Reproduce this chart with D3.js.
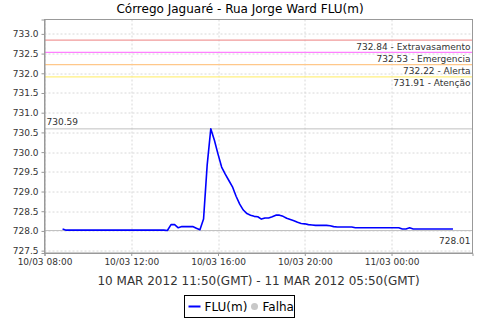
<!DOCTYPE html>
<html>
<head>
<meta charset="utf-8">
<script src="https://cdn.jsdelivr.net/npm/d3@7"></script>
<style>
  body { margin: 0; background: #fff; }
  svg text { font-family: "DejaVu Sans", sans-serif; }
</style>
</head>
<body>
<div id="chart"></div>
<script>
// Chart data
const chartTitle = "Córrego Jaguaré - Rua Jorge Ward FLU(m)";
const subTitle = "10 MAR 2012 11:50(GMT) - 11 MAR 2012 05:50(GMT)";
const seriesStart = "2012-03-10 08:50";
const stepMinutes = 10;
const fluValues = [
  728.05, 728.02, 728.02, 728.02, 728.02, 728.02, 728.02, 728.02, 728.02, 728.02,
  728.02, 728.02, 728.02, 728.02, 728.02, 728.02, 728.02, 728.02, 728.02, 728.02,
  728.02, 728.02, 728.02, 728.02, 728.02, 728.02, 728.02, 728.02, 728.02, 728.01,
  728.16, 728.16, 728.08, 728.11, 728.11, 728.11, 728.11, 728.07, 728.03, 728.30,
  729.67, 730.59, 730.30, 729.95, 729.62, 729.44, 729.28, 729.12, 728.88, 728.68,
  728.53, 728.44, 728.40, 728.37, 728.36, 728.30, 728.33, 728.33, 728.36, 728.40,
  728.40, 728.37, 728.32, 728.29, 728.26, 728.22, 728.19, 728.18, 728.16, 728.15,
  728.14, 728.14, 728.14, 728.14, 728.13, 728.11, 728.10, 728.10, 728.10, 728.10,
  728.10, 728.08, 728.08, 728.08, 728.08, 728.08, 728.08, 728.08, 728.08, 728.08,
  728.08, 728.08, 728.08, 728.08, 728.05, 728.05, 728.08, 728.05, 728.05, 728.05,
  728.05, 728.05, 728.05, 728.05, 728.05, 728.05, 728.05, 728.05, 728.05
];
const markerValues = [732.84, 732.53, 732.22, 731.91];
const markerNames = ["Extravasamento", "Emergencia", "Alerta", "Atenção"];
const markerColors = ["#f09a9a", "#ff80ff", "#ffc88a", "#fff080"];
const yTicks = [727.5, 728.0, 728.5, 729.0, 729.5, 730.0, 730.5, 731.0, 731.5, 732.0, 732.5, 733.0];
const xTicks = ["2012-03-10 08:00", "2012-03-10 12:00", "2012-03-10 16:00", "2012-03-10 20:00", "2012-03-11 00:00"];
const xDomain = ["2012-03-10 08:00", "2012-03-11 03:44"];
const yDomain = [727.44, 733.365];

const parse = d3.utcParse("%Y-%m-%d %H:%M");
const t0 = parse(seriesStart);
const data = fluValues.map((v, i) => ({
  date: d3.utcMinute.offset(t0, i * stepMinutes),
  value: v,
}));

const W = 480, H = 320;
const margin = { top: 19.5, right: 7.5, bottom: 67, left: 44.5 };
const width = W - margin.left - margin.right;
const height = H - margin.top - margin.bottom;

const svg = d3.select("#chart").append("svg").attr("width", W).attr("height", H);

const x = d3.scaleUtc().domain(xDomain.map(parse)).range([0, width]);
const y = d3.scaleLinear().domain(yDomain).range([height, 0]);

// Title
svg.append("text")
  .attr("x", W / 2).attr("y", 13)
  .attr("text-anchor", "middle")
  .style("font-size", "12px")
  .attr("fill", "#000")
  .text(chartTitle);

const g = svg.append("g").attr("transform", `translate(${margin.left},${margin.top})`);

// Grid
g.append("g").selectAll("line").data(yTicks).join("line")
  .attr("x1", 0).attr("x2", width)
  .attr("y1", d => Math.round(y(d)) + 0.5).attr("y2", d => Math.round(y(d)) + 0.5)
  .attr("stroke", "#d8d8d8").attr("stroke-dasharray", "2,2");
g.append("g").selectAll("line").data(xTicks.map(parse)).join("line")
  .attr("x1", d => Math.round(x(d)) + 0.5).attr("x2", d => Math.round(x(d)) + 0.5)
  .attr("y1", 0).attr("y2", height)
  .attr("stroke", "#d8d8d8").attr("stroke-dasharray", "2,2");

// Min / max lines
const maxV = d3.max(fluValues), minV = d3.min(fluValues);
[maxV, minV].forEach(v => {
  g.append("line")
    .attr("x1", 0).attr("x2", width)
    .attr("y1", y(v)).attr("y2", y(v))
    .attr("stroke", "#c0c0c0");
});
g.append("text")
  .attr("x", 2).attr("y", y(maxV) - 4)
  .style("font-size", "9px").attr("fill", "#333")
  .text(maxV.toFixed(2));
g.append("text")
  .attr("x", width - 2).attr("y", y(minV) + 13)
  .attr("text-anchor", "end")
  .style("font-size", "9px").attr("fill", "#333")
  .text(minV.toFixed(2));

// Threshold markers
markerValues.forEach((v, i) => {
  g.append("line")
    .attr("x1", 0).attr("x2", width)
    .attr("y1", y(v)).attr("y2", y(v))
    .attr("stroke", markerColors[i]).attr("stroke-width", 1.3);
  g.append("text")
    .attr("x", width - 2).attr("y", y(v) + 9.5)
    .attr("text-anchor", "end")
    .style("font-size", "9px").attr("fill", "#333")
    .text(`${v.toFixed(2)} - ${markerNames[i]}`);
});

// Series
const line = d3.line().x(d => x(d.date)).y(d => y(d.value));
g.append("path")
  .datum(data)
  .attr("fill", "none")
  .attr("stroke", "#0000ff")
  .attr("stroke-width", 1.6)
  .attr("stroke-linejoin", "round")
  .attr("d", line);

// Frame
g.append("rect")
  .attr("width", width).attr("height", height)
  .attr("fill", "none").attr("stroke", "#999");

// Axes
const yAxis = g.append("g")
  .call(d3.axisLeft(y).tickValues(yTicks).tickFormat(d3.format(".1f")).tickSize(3).tickPadding(3));
const xAxis = g.append("g")
  .attr("transform", `translate(0,${height})`)
  .call(d3.axisBottom(x).tickValues(xTicks.map(parse)).tickFormat(d3.utcFormat("%d/%m %H:%M")).tickSize(3).tickPadding(3));
[yAxis, xAxis].forEach(a => {
  a.select(".domain").attr("stroke", "#999");
  a.selectAll(".tick line").attr("stroke", "#999");
  a.selectAll(".tick text").style("font-size", "9px").attr("fill", "#333")
    .style("font-family", "DejaVu Sans, sans-serif");
});

// Subtitle (centred on the plot area)
g.append("text")
  .attr("x", width / 2).attr("y", 285 - margin.top)
  .attr("text-anchor", "middle")
  .style("font-size", "12px").attr("fill", "#333")
  .text(subTitle);

// Legend
const lg = svg.append("g").attr("transform", "translate(184.5,295.5)");
lg.append("rect").attr("width", 110).attr("height", 22)
  .attr("fill", "#fff").attr("stroke", "#000");
lg.append("line").attr("x1", 4).attr("x2", 16).attr("y1", 11).attr("y2", 11)
  .attr("stroke", "#0000ff").attr("stroke-width", 2);
lg.append("text").attr("x", 20).attr("y", 15.5)
  .style("font-size", "12px").text("FLU(m)");
lg.append("circle").attr("cx", 70).attr("cy", 11).attr("r", 3.5).attr("fill", "#c8c8c8");
lg.append("text").attr("x", 78).attr("y", 15.5)
  .style("font-size", "12px").text("Falha");
</script>
</body>
</html>
